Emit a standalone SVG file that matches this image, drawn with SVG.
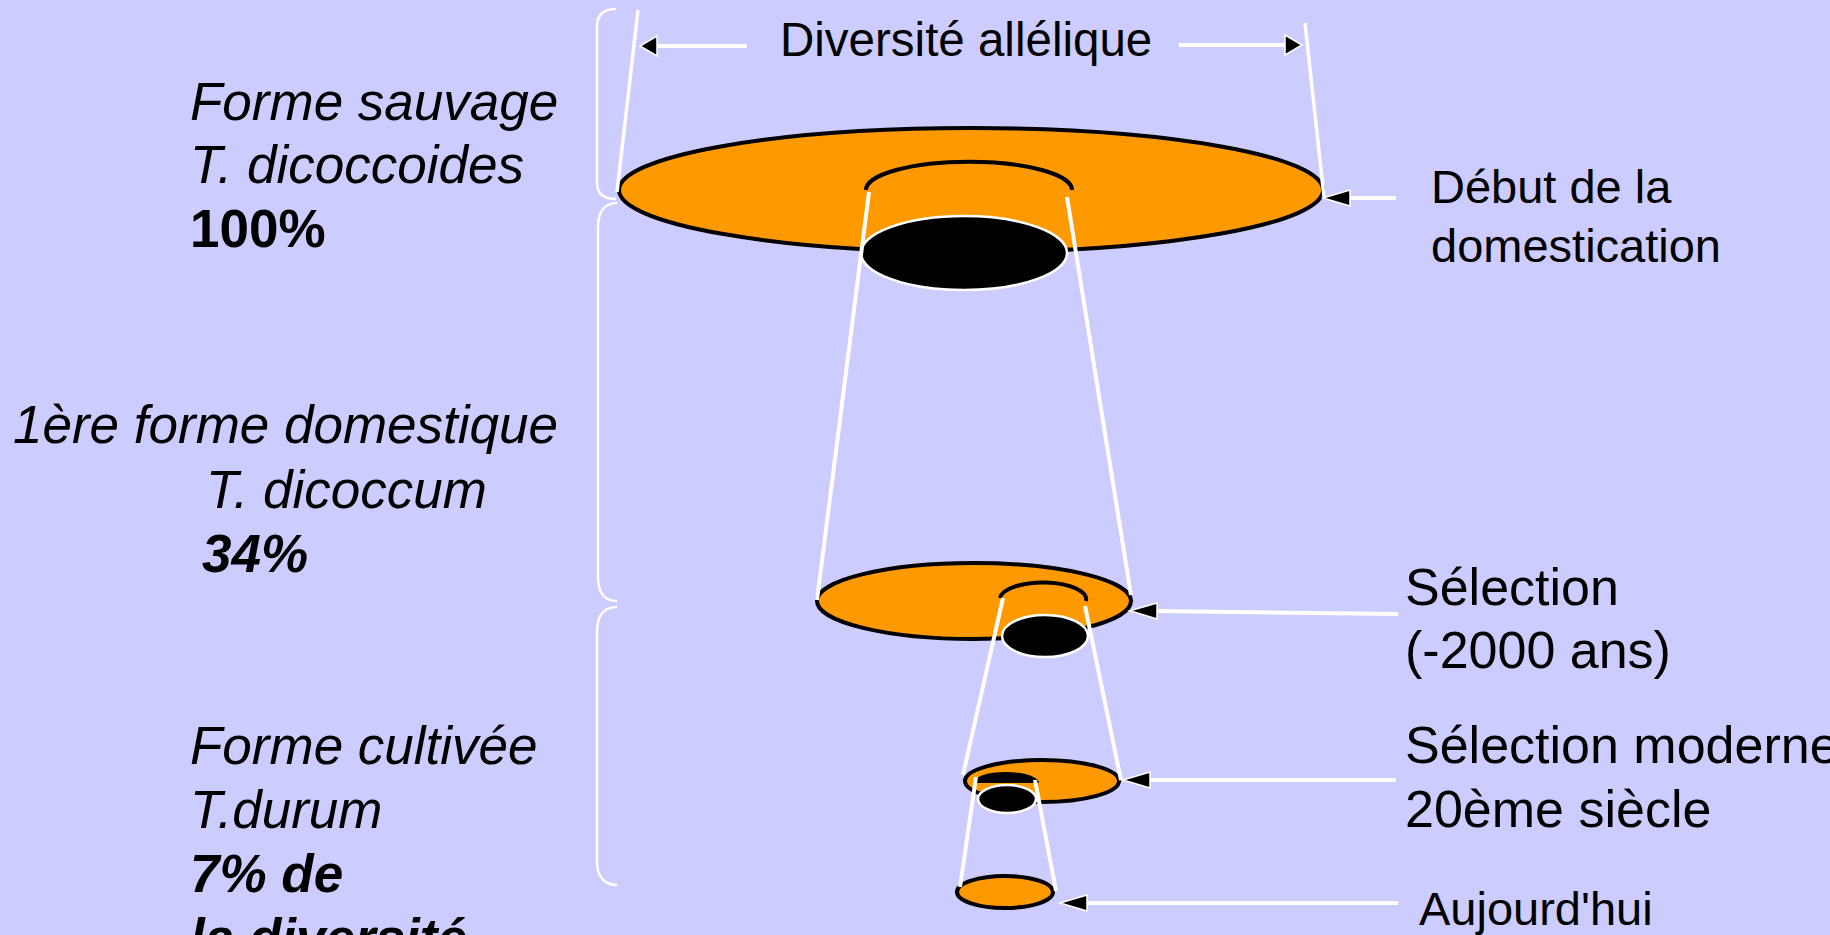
<svg xmlns="http://www.w3.org/2000/svg" width="1830" height="935" viewBox="0 0 1830 935">
<style>
.bg{fill:#CCCCFF}
.disk{fill:#FF9900;stroke:#000;stroke-width:4}
.hole{fill:#000;stroke:#fff;stroke-width:2.5}
.rim{fill:none;stroke:#000;stroke-width:4}
.cone{stroke:#fff;stroke-width:4;fill:none}
.ext{stroke:#fff;stroke-width:3.5;fill:none}
.brace{stroke:#fff;stroke-width:2.5;fill:none}
.arr{stroke:#fff;stroke-width:4;fill:none}
.arrL{marker-end:url(#headL)}
.arrS{marker-end:url(#headS)}
text{font-family:"Liberation Sans",Arial,sans-serif;fill:#000}
.lt{font-size:53px}
.it{font-style:italic}
.bd{font-weight:bold}
.rt{font-size:52px}
.rs{font-size:47px}
.dv{font-size:47.5px}
</style>
<defs>
<marker id="headL" viewBox="-2 -2 31 20" refX="0" refY="8" markerWidth="31" markerHeight="20" markerUnits="userSpaceOnUse" orient="auto" overflow="visible">
<path d="M0,0 L27,8 L0,16 Z" fill="#000" stroke="#fff" stroke-width="1.5"/>
</marker>
<marker id="headS" viewBox="-2 -2 21 24" refX="0" refY="10" markerWidth="21" markerHeight="24" markerUnits="userSpaceOnUse" orient="auto" overflow="visible">
<path d="M0,0 L17,10 L0,20 Z" fill="#000" stroke="#fff" stroke-width="1.5"/>
</marker>
</defs>
<rect class="bg" x="0" y="0" width="1830" height="935"/>

<g id="braces">
<path class="brace" d="M616,9 C604,9 597,14 597,27 L597,183 C597,194 604,199 616,199"/>
<path class="brace" d="M617,203 C605,203 598,210 598,228 L598,577 C598,593 605,601 617,601"/>
<path class="brace" d="M617,607 C605,607 597,614 597,632 L597,862 C597,877 605,885 617,885"/>
</g>

<g id="level-wild">
<ellipse class="disk" cx="971" cy="190" rx="352" ry="62"/>
<path class="rim" d="M866,190 A102,28 0 0 1 1072,190"/>
<ellipse class="hole" cx="964" cy="253" rx="103" ry="37"/>
</g>

<g id="level-domestic">
<ellipse class="disk" cx="974" cy="601" rx="157" ry="38"/>
<path class="rim" d="M1000,598 A43,17 0 0 1 1086,601"/>
<ellipse class="hole" cx="1045" cy="636" rx="43" ry="21"/>
</g>

<g id="level-modern">
<ellipse class="disk" cx="1042" cy="781" rx="77" ry="21"/>
<path d="M973,783 A33,11 0 0 1 1039,783 Z" fill="#000"/>
<ellipse class="hole" cx="1007" cy="799" rx="29" ry="14"/>
</g>

<g id="level-today">
<ellipse class="disk" cx="1005" cy="892" rx="48" ry="16"/>
</g>

<g id="connectors">
<line class="cone" x1="869" y1="192" x2="817" y2="600"/>
<line class="cone" x1="1067" y1="197" x2="1131" y2="595"/>
<line class="cone" x1="1003" y1="598" x2="963" y2="775"/>
<line class="cone" x1="1085" y1="606" x2="1121" y2="780"/>
<line class="cone" x1="976" y1="777" x2="960" y2="887"/>
<line class="cone" x1="1035" y1="780" x2="1056" y2="891"/>
<line class="ext" x1="638" y1="10" x2="617" y2="192"/>
<line class="ext" x1="1305" y1="23" x2="1324" y2="197"/>
<line class="arr arrS" x1="747" y1="46" x2="657" y2="46"/>
<line class="arr arrS" x1="1179" y1="45" x2="1285" y2="45"/>
<line class="arr arrL" x1="1396" y1="198" x2="1350" y2="198"/>
<line class="arr arrL" x1="1398" y1="614" x2="1157" y2="611"/>
<line class="arr arrL" x1="1396" y1="780" x2="1150" y2="780"/>
<line class="arr arrL" x1="1398" y1="903" x2="1087" y2="903"/>
</g>

<g id="label-diversite">
<text class="dv" x="780" y="56">Diversité allélique</text>
</g>
<g id="label-sauvage">
<text class="lt it" x="190" y="120">Forme sauvage</text>
<text class="lt it" x="190" y="183">T. dicoccoides</text>
<text class="lt bd" x="190" y="247">100%</text>
</g>
<g id="label-domestique">
<text class="lt it" x="13" y="443">1ère forme domestique</text>
<text class="lt it" x="206" y="508">T. dicoccum</text>
<text class="lt it bd" x="202" y="572">34%</text>
</g>
<g id="label-cultivee">
<text class="lt it" x="190" y="764">Forme cultivée</text>
<text class="lt it" x="190" y="828">T.durum</text>
<text class="lt it bd" x="190" y="892">7% de</text>
<text class="lt it bd" x="190" y="956">la diversité</text>
</g>
<g id="label-debut">
<text class="rs" x="1431" y="203">Début de la</text>
<text class="rs" x="1431" y="262">domestication</text>
</g>
<g id="label-selection">
<text class="rt" x="1405" y="605">Sélection</text>
<text class="rt" x="1405" y="668">(-2000 ans)</text>
</g>
<g id="label-moderne">
<text class="rt" x="1405" y="763">Sélection moderne</text>
<text class="rt" x="1405" y="827">20ème siècle</text>
</g>
<g id="label-aujourdhui">
<text class="rs" x="1419" y="925">Aujourd'hui</text>
</g>
</svg>
